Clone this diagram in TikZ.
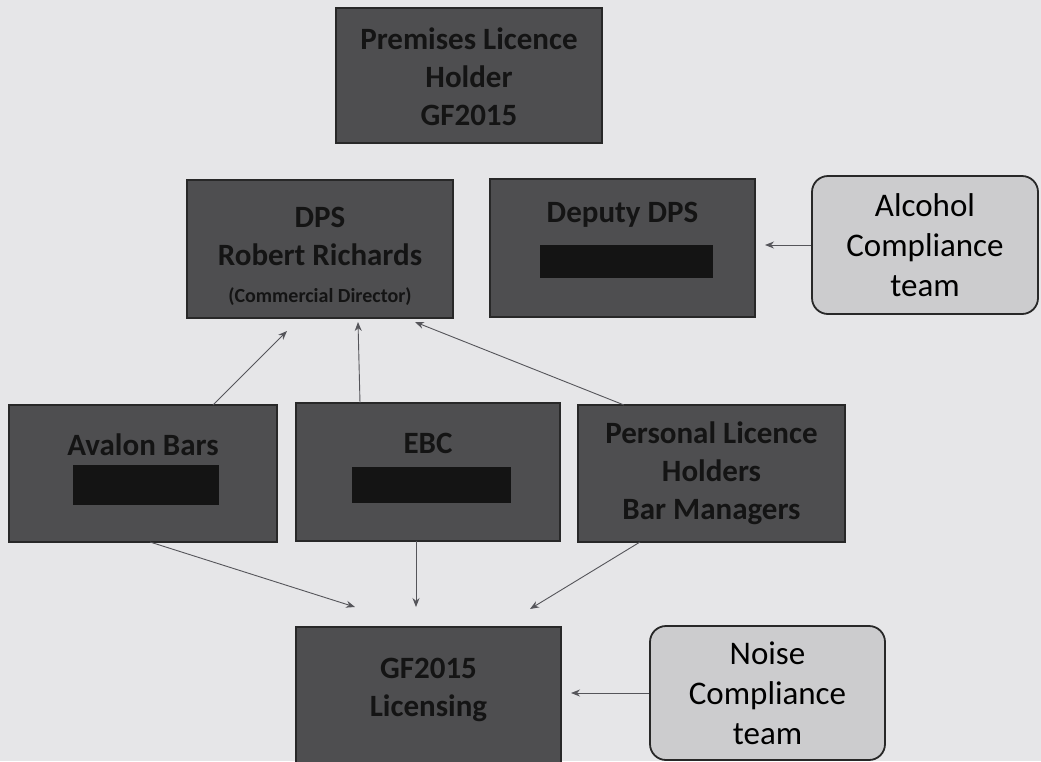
\documentclass[tikz,border=0pt]{standalone}
\usepackage{fontspec}
\setmainfont{Carlito}
\usetikzlibrary{arrows.meta}
\definecolor{paper}{RGB}{230,230,232}
\definecolor{boxfill}{RGB}{78,78,80}
\definecolor{boxline}{RGB}{40,40,40}
\definecolor{boxtext}{RGB}{20,20,20}
\definecolor{lightfill}{RGB}{204,204,206}
\definecolor{arrowcol}{RGB}{85,85,90}
\tikzset{
  darkbox/.style={draw=boxline, line width=1.6pt, fill=boxfill, inner sep=0pt},
  boldtext/.style={text=boxtext, align=center, inner sep=0pt,
    font=\fontsize{31}{38}\selectfont\bfseries},
  smalltext/.style={text=boxtext, align=center, inner sep=0pt,
    font=\fontsize{20}{24}\selectfont\bfseries},
  teambox/.style={draw=boxline, line width=1.8pt, fill=lightfill, rounded corners=16pt,
    text=black, align=center, inner sep=0pt,
    font=\fontsize{33}{40}\selectfont},
  redact/.style={fill=black!92, draw=none, inner sep=0pt},
  conn/.style={draw=arrowcol, line width=0.9pt, -{Stealth[length=9pt,width=7pt]}},
}
\begin{document}
\begin{tikzpicture}[x=1pt,y=-1pt]
\fill[paper] (0,0) rectangle (1041,761);
\useasboundingbox (0,0) rectangle (1041,761);
\begin{scope}
\clip (0,0) rectangle (1041,761);
% top box
\node[darkbox, minimum width=266pt, minimum height=135pt] (prem) at (469,75.5) {};
\node[boldtext] (premt) at (469,77) {Premises Licence\\Holder\\GF2015};
% DPS
\node[darkbox, minimum width=266pt, minimum height=138pt] (dps) at (320,249) {};
\node[boldtext] (dpst) at (320,236) {DPS\\Robert Richards};
\node[smalltext] (dpss) at (320,297) {(Commercial Director)};
% Deputy DPS
\node[darkbox, minimum width=265pt, minimum height=138pt] (dep) at (622.5,248) {};
\node[boldtext] (dept) at (622.5,215) {Deputy DPS};
\node[redact, minimum width=173pt, minimum height=33pt] (depbar) at (626.5,261) {};
% Alcohol compliance
\node[teambox, minimum width=226pt, minimum height=138pt] (alc) at (925,245) {Alcohol\\Compliance\\team};
% Avalon
\node[darkbox, minimum width=268pt, minimum height=137pt] (aval) at (143,473.5) {};
\node[boldtext] (avalt) at (143,445) {Avalon Bars};
\node[redact, minimum width=146pt, minimum height=40pt] (avalbar) at (146,484.5) {};
% EBC
\node[darkbox, minimum width=264pt, minimum height=138pt] (ebc) at (428,472) {};
\node[boldtext] (ebct) at (428,443) {EBC};
\node[redact, minimum width=159pt, minimum height=36pt] (ebcbar) at (431.5,485) {};
% Personal licence holders
\node[darkbox, minimum width=267pt, minimum height=137pt] (pers) at (711.5,473.5) {};
\node[boldtext] (perst) at (711.5,473) {Personal Licence\\Holders\\Bar Managers};
% Licensing
\node[darkbox, minimum width=265pt, minimum height=150pt] (lic) at (428.5,702) {};
\node[boldtext] (lict) at (428.5,690) {GF2015\\Licensing};
% Noise compliance
\node[teambox, minimum width=235pt, minimum height=134pt] (noise) at (767.5,693) {Noise\\Compliance\\team};
\end{scope}
% connector end points
\coordinate (a1) at (287,331);
\coordinate (a2) at (358,322);
\coordinate (a3) at (415,322);
\coordinate (b1) at (355,607);
\coordinate (b2) at (416,607);
\coordinate (b3) at (530,609);
\coordinate (c1) at (765,245);
\coordinate (c2) at (571,693);
\coordinate (s1) at (213,405);
\coordinate (s2) at (360,403);
\coordinate (s3) at (624,405);
\coordinate (d1) at (150,542);
\coordinate (d2) at (416,541);
\coordinate (d3) at (640,542);
\draw[conn] (s1) -- (a1);
\draw[conn] (s2) -- (a2);
\draw[conn] (s3) -- (a3);
\draw[conn] (d1) -- (b1);
\draw[conn] (d2) -- (b2);
\draw[conn] (d3) -- (b3);
\draw[conn] (alc.west) -- (c1);
\draw[conn] (noise.west) -- (c2);
\end{tikzpicture}
\end{document}
